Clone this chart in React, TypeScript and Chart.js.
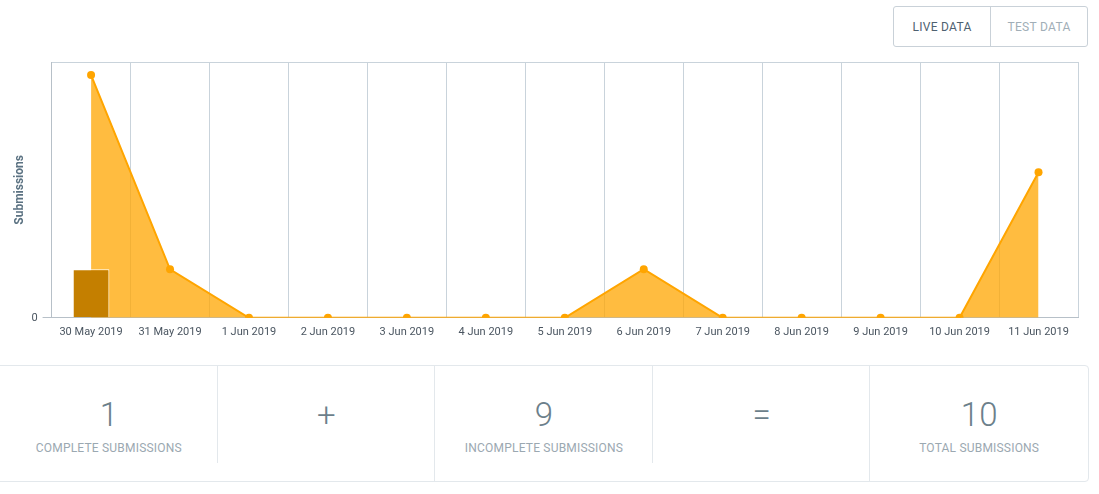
import React, { useEffect, useRef } from "react";
import { Chart, registerables } from "chart.js";

Chart.register(...registerables);

const categories = [
  "30 May 2019", "31 May 2019", "1 Jun 2019", "2 Jun 2019", "3 Jun 2019",
  "4 Jun 2019", "5 Jun 2019", "6 Jun 2019", "7 Jun 2019", "8 Jun 2019",
  "9 Jun 2019", "10 Jun 2019", "11 Jun 2019",
];
const completeValues = [1, 0, 0, 0, 0, 0, 0, 0, 0, 0, 0, 0, 0];
const totalValues = [5, 1, 0, 0, 0, 0, 0, 1, 0, 0, 0, 0, 3];
const yTickLabels = ["0"];

const stats = [
  { value: "1", label: "COMPLETE SUBMISSIONS" },
  { value: "+", label: "" },
  { value: "9", label: "INCOMPLETE SUBMISSIONS" },
  { value: "=", label: "" },
  { value: "10", label: "TOTAL SUBMISSIONS" },
];

const FONT = "Roboto, 'Noto Sans', sans-serif";

export default function App() {
  const canvasRef = useRef<HTMLCanvasElement | null>(null);

  useEffect(() => {
    if (!canvasRef.current) return;
    const chart = new Chart(canvasRef.current, {
      data: {
        labels: categories,
        datasets: [
          {
            type: "bar",
            label: "Complete",
            data: completeValues,
            backgroundColor: "#c47f00",
            borderColor: "#ffffff",
            borderWidth: 1,
            barPercentage: 0.58,
            categoryPercentage: 0.8,
            order: 0,
          },
          {
            type: "line",
            label: "Total",
            data: totalValues,
            borderColor: "#ffa500",
            backgroundColor: "rgba(255,165,0,0.75)",
            borderWidth: 2,
            fill: "origin",
            tension: 0,
            pointRadius: 4,
            pointBorderWidth: 0,
            pointBackgroundColor: "#ffa500",
            order: 1,
          },
        ],
      } as any,
      options: {
        animation: false,
        responsive: true,
        maintainAspectRatio: false,
        layout: { padding: { left: 7, right: 12, top: 4, bottom: 3 } },
        plugins: { legend: { display: false }, tooltip: { enabled: false } },
        scales: {
          x: {
            type: "category",
            offset: true,
            grid: { offset: true, color: "#c9d3db", drawTicks: false },
            border: { color: "#b7c0c8" },
            ticks: {
              color: "#4a5560",
              font: { family: FONT, size: 11 },
              padding: 8,
              maxRotation: 0,
              autoSkip: false,
            },
          },
          x2: {
            type: "category",
            position: "top",
            labels: categories,
            grid: { display: false },
            border: { display: true, color: "#c9d3db" },
            ticks: { display: false },
          },
          y: {
            min: 0,
            max: 5.27,
            grid: {
              color: (ctx: any) => (ctx.tick && ctx.tick.value === 0 ? "#b7c0c8" : "transparent"),
              tickLength: 9,
            },
            border: { color: "#b7c0c8" },
            ticks: {
              stepSize: 1,
              padding: 5,
              color: "#4a5560",
              font: { family: FONT, size: 11 },
              callback: (v: any) => (yTickLabels.includes(String(v)) ? String(v) : ""),
            },
            title: {
              display: true,
              text: "Submissions",
              color: "#5b7282",
              padding: { top: 6, bottom: -1 },
              font: { family: FONT, size: 12, weight: "bold" },
            },
          },
        },
      } as any,
    });
    return () => chart.destroy();
  }, []);

  return (
    <div style={{ fontFamily: FONT }}>
      <div
        style={{
          position: "absolute",
          left: 893,
          top: 6,
          width: 195,
          height: 41,
          border: "1px solid #c9d1d8",
          borderRadius: 3,
          boxSizing: "border-box",
          display: "flex",
          fontSize: 12,
          letterSpacing: 0.3,
        }}
      >
        <div
          style={{
            width: 96,
            borderRight: "1px solid #c9d1d8",
            display: "flex",
            alignItems: "center",
            justifyContent: "center",
            color: "#4e6170",
          }}
        >
          LIVE DATA
        </div>
        <div
          style={{
            flex: 1,
            display: "flex",
            alignItems: "center",
            justifyContent: "center",
            color: "#a1aeb7",
          }}
        >
          TEST DATA
        </div>
      </div>

      <div style={{ position: "absolute", left: 0, top: 50, width: 1090, height: 300 }}>
        <canvas ref={canvasRef} />
      </div>

      <div
        style={{
          position: "absolute",
          left: -5,
          top: 365,
          width: 1094,
          height: 117,
          border: "1px solid #e3e8ec",
          borderRadius: 4,
          boxSizing: "border-box",
          display: "flex",
        }}
      >
        {stats.map((s, i) => (
          <div
            key={i}
            style={{
              width: i === 0 ? 222 : 218,
              position: "relative",
              boxSizing: "border-box",
              textAlign: "center",
            }}
          >
            {i < 4 && (
              <div
                style={{
                  position: "absolute",
                  right: 0,
                  top: 0,
                  width: 1,
                  height: i % 2 === 0 ? 97 : 116,
                  background: "#e3e8ec",
                }}
              />
            )}
            <div
              style={{
                position: "absolute",
                left: i === 0 ? 4 : 0,
                right: 0,
                top: 29,
                fontSize: 33,
                fontWeight: 300,
                color: "#6c7f8b",
                lineHeight: "40px",
              }}
            >
              {s.value}
            </div>
            <div
              style={{
                position: "absolute",
                left: i === 0 ? 4 : 0,
                right: 0,
                top: 75,
                fontSize: 12,
                letterSpacing: 0.2,
                color: "#9ba8b1",
                lineHeight: "14px",
              }}
            >
              {s.label}
            </div>
          </div>
        ))}
      </div>
    </div>
  );
}
